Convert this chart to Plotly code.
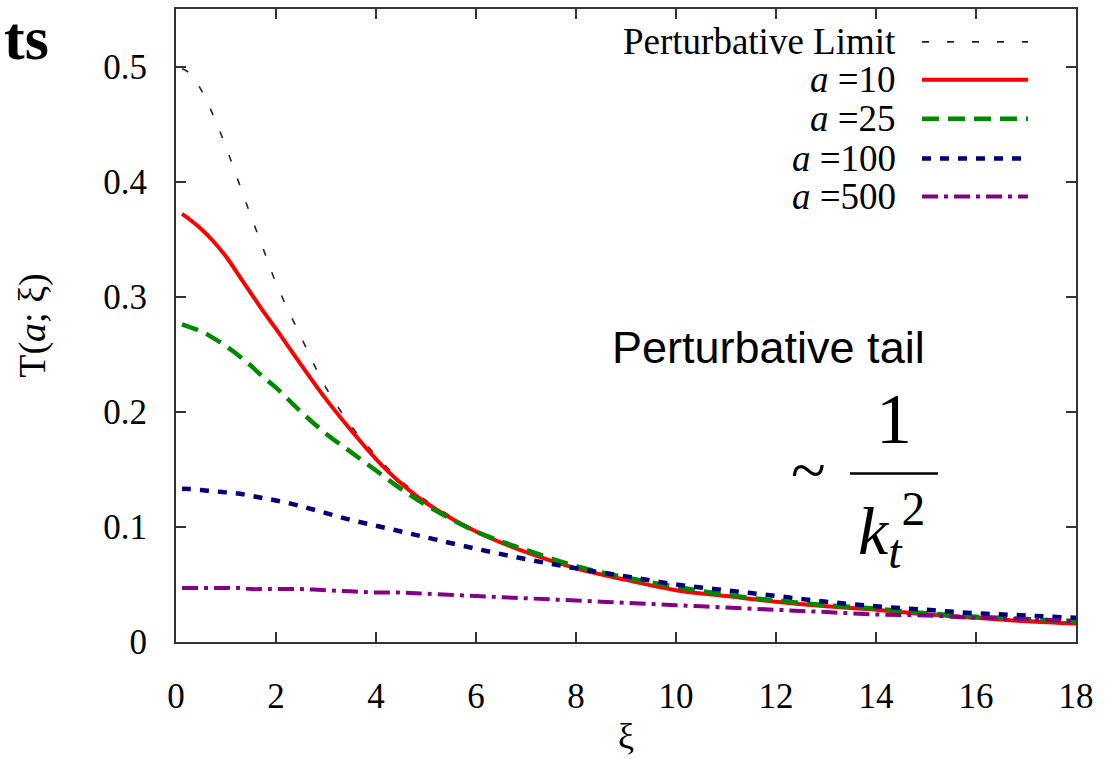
import plotly.graph_objects as go

# ---- data ----
xi = [0.12, 0.25, 0.5, 0.75, 1, 1.25, 1.5, 1.75, 2, 2.5, 3, 3.5, 4, 4.5, 5,
      6, 7, 8, 9, 10, 11, 12, 13, 14, 15, 16, 17, 18]
pert_limit = [0.498, 0.495, 0.480, 0.457, 0.430, 0.400, 0.370, 0.341, 0.312, 0.265,
              0.221, 0.188, 0.162, 0.140, 0.123, 0.097, 0.079, 0.065, 0.054, 0.046,
              0.040, 0.035, 0.031, 0.028, 0.025, 0.022, 0.019, 0.017]
a10 = [0.372, 0.368, 0.359, 0.348, 0.335, 0.319, 0.303, 0.287, 0.272, 0.241,
       0.211, 0.184, 0.159, 0.138, 0.121, 0.096, 0.078, 0.064, 0.054, 0.045,
       0.040, 0.035, 0.031, 0.028, 0.024, 0.021, 0.018, 0.016]
a25 = [0.276, 0.274, 0.270, 0.264, 0.257, 0.249, 0.240, 0.230, 0.221, 0.200,
       0.181, 0.165, 0.149, 0.133, 0.119, 0.096, 0.080, 0.066, 0.056, 0.048,
       0.041, 0.036, 0.032, 0.029, 0.025, 0.022, 0.020, 0.018]
a100 = [0.133, 0.133, 0.132, 0.131, 0.130, 0.129, 0.127, 0.125, 0.123, 0.118,
        0.112, 0.106, 0.101, 0.096, 0.091, 0.081, 0.072, 0.064, 0.057, 0.050,
        0.045, 0.040, 0.035, 0.031, 0.028, 0.025, 0.023, 0.021]
a500 = [0.047, 0.047, 0.047, 0.047, 0.047, 0.047, 0.046, 0.046, 0.046, 0.046,
        0.045, 0.044, 0.043, 0.043, 0.042, 0.040, 0.038, 0.036, 0.034, 0.032,
        0.030, 0.028, 0.026, 0.024, 0.023, 0.021, 0.020, 0.018]

series_names = ["Perturbative Limit", "<i>a</i> =10", "<i>a</i> =25", "<i>a</i> =100", "<i>a</i> =500"]
series_values = [pert_limit, a10, a25, a100, a500]
series_colors = ["#222222", "#ff0000", "#008a00", "#00007a", "#860086"]
series_widths = [1.6, 4, 4.5, 4.5, 4]
series_dash = ["7px,18px", "solid", "17px,9px", "9px,9px", "16px,6px,4px,6px"]

x_ticks = [0, 2, 4, 6, 8, 10, 12, 14, 16, 18]
y_ticks = [0, 0.1, 0.2, 0.3, 0.4, 0.5]

SERIF = "Liberation Serif"
SANS = "Liberation Sans"

W, H = 1116, 759
ML, MR, MT, MB = 176, 40, 7, 117
PW, PH = W - ML - MR, H - MT - MB


def px(xp):
    return (xp - ML) / PW


def py(yp):
    return (H - MB - yp) / PH


fig = go.Figure()
for name, vals, col, w, d in zip(series_names, series_values, series_colors,
                                 series_widths, series_dash):
    fig.add_trace(go.Scatter(x=xi, y=vals, mode="lines", name=name,
                             line=dict(color=col, width=w, dash=d, shape="spline",
                                       smoothing=1.0),
                             showlegend=False))

axis_common = dict(showline=True, linecolor="#333333", linewidth=2, mirror="ticks",
                   ticks="inside", ticklen=10, tickwidth=1.6, tickcolor="#333333",
                   showgrid=False, zeroline=False,
                   tickfont=dict(family=SERIF, size=35, color="#000000"))

fig.update_xaxes(range=[0, 18], tickvals=x_ticks, ticklabelstandoff=22,
                 title=dict(text="ξ", font=dict(family=SERIF, size=36, color="#000"),
                            standoff=8),
                 **axis_common)
fig.update_yaxes(range=[0, 0.55], tickvals=y_ticks, ticklabelstandoff=20,
                 title=dict(text="T(<i>a</i>; ξ)", font=dict(family=SERIF, size=38, color="#000"),
                            standoff=46),
                 **axis_common)

annotations = []
shapes = []
# custom legend: text on the left, sample on the right
row_y = [40, 78, 117, 157, 195]
for name, col, w, d, ry in zip(series_names, series_colors, series_widths, series_dash, row_y):
    annotations.append(dict(xref="paper", yref="paper", x=px(898), y=py(ry),
                            xanchor="right", yanchor="middle", showarrow=False,
                            text=name, font=dict(family=SERIF, size=37, color="#000")))
    shapes.append(dict(type="line", xref="paper", yref="paper",
                       x0=px(922), x1=px(1028), y0=py(ry), y1=py(ry),
                       line=dict(color=col, width=w, dash=d)))

# partial heading at top-left
annotations.append(dict(xref="paper", yref="paper", x=px(2), y=py(0),
                        xanchor="left", yanchor="top", showarrow=False,
                        text="<b>ts</b>", font=dict(family=SERIF, size=62, color="#000")))
# perturbative tail note
annotations.append(dict(xref="paper", yref="paper", x=px(768), y=py(347),
                        xanchor="center", yanchor="middle", showarrow=False,
                        text="Perturbative tail", font=dict(family=SANS, size=45, color="#000")))
annotations.append(dict(xref="paper", yref="paper", x=px(808), y=py(470),
                        xanchor="center", yanchor="middle", showarrow=False,
                        text="~", font=dict(family=SERIF, size=64, color="#000")))
annotations.append(dict(xref="paper", yref="paper", x=px(894), y=py(418),
                        xanchor="center", yanchor="middle", showarrow=False,
                        text="1", font=dict(family=SERIF, size=72, color="#000")))
annotations.append(dict(xref="paper", yref="paper", x=px(856), y=py(530),
                        xanchor="left", yanchor="middle", showarrow=False,
                        text="<i>k</i><sub><i>t</i></sub><sup>2</sup>",
                        font=dict(family=SERIF, size=68, color="#000")))
shapes.append(dict(type="line", xref="paper", yref="paper",
                   x0=px(850), x1=px(938), y0=py(473), y1=py(473),
                   line=dict(color="#000", width=2.5)))

fig.update_layout(width=W, height=H, margin=dict(l=ML, r=MR, t=MT, b=MB),
                  paper_bgcolor="white", plot_bgcolor="white",
                  annotations=annotations, shapes=shapes, showlegend=False)

fig.write_html("out.html")
